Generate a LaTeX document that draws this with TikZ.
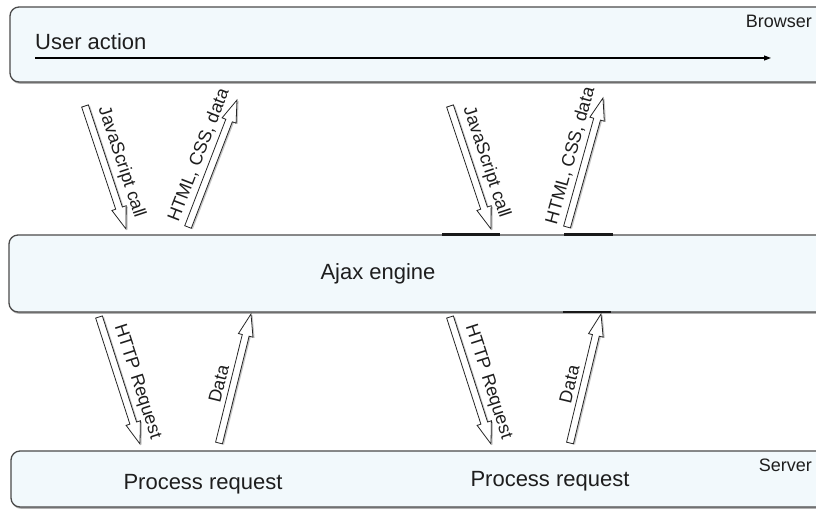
\documentclass[tikz,border=0pt]{standalone}
\usepackage{fontspec}
\setmainfont{Liberation Sans}
\usetikzlibrary{calc,shadows,arrows.meta}
\definecolor{boxfill}{RGB}{242,249,252}
\definecolor{boxline}{RGB}{75,75,75}
\definecolor{txt}{RGB}{30,30,30}
\tikzset{
 layer/.style={draw=boxline, line width=1.3pt, fill=boxfill, rounded corners=9pt,
   drop shadow={shadow xshift=0.8pt, shadow yshift=-1.8pt, opacity=.5, fill=black!60}},
 hollow/.style={draw=black!85, line width=.8pt, fill=white, line join=miter,
   drop shadow={shadow xshift=1.6pt, shadow yshift=-0.8pt, opacity=.45, fill=black!50}},
 big/.style={font=\fontsize{22}{24}\selectfont, text=txt, inner sep=0pt},
 small/.style={font=\fontsize{18}{20}\selectfont, text=txt, inner sep=0pt},
 lbl/.style={font=\fontsize{18}{20}\selectfont, text=txt, sloped, above=7pt, inner sep=1pt},
 thickseg/.style={line width=2.6pt, draw=black!90},
 useract/.style={line width=1.1pt, draw=black, -{Triangle[length=7pt,width=5pt]}}
}
\newcommand\hollowarrow[2]{%
 \coordinate (hh) at ($(#2)!22pt!(#1)$);
 \draw[hollow] ($(#1)!3.5pt!90:(#2)$) -- ($(hh)!3.5pt!-90:(#1)$) -- ($(hh)!7.5pt!-90:(#1)$)
   -- (#2) -- ($(hh)!7.5pt!90:(#1)$) -- ($(hh)!3.5pt!90:(#1)$) -- ($(#1)!3.5pt!-90:(#2)$) -- cycle;}
\begin{document}
\begin{tikzpicture}[x=1pt,y=-1pt]
\useasboundingbox (0,0) rectangle (816,510);
\clip (0,0) rectangle (816,510);
\fill[white] (0,0) rectangle (816,510);
% layers
\draw[layer] (10,7) rectangle (840,82);
\draw[layer] (9,235) rectangle (840,312);
\draw[layer] (11,451) rectangle (840,507);
% thick segments on ajax box
\draw[thickseg] (442,234.5) -- (500,234.5);
\draw[thickseg] (564,234.5) -- (613,234.5);
\draw[thickseg] (563,312) -- (611,312);
% texts
\node[big, anchor=west] (ua) at (35,42) {User action};
\coordinate (uaS) at (35,58);
\coordinate (uaE) at (771,58);
\draw[useract] (uaS) -- (uaE);
\node[small, anchor=east] (br) at (812,21) {Browser};
\node[big] (aj) at (378,274) {Ajax engine};
\node[big] (pr1) at (203,484) {Process request};
\node[big] (pr2) at (550,481) {Process request};
\node[small, anchor=east] (sv) at (812,465) {Server};
% arrow endpoints
\coordinate (js1a) at (85,106);  \coordinate (js1b) at (126,229);
\coordinate (ht1a) at (188,227); \coordinate (ht1b) at (237,100);
\coordinate (js2a) at (450,106); \coordinate (js2b) at (491,229);
\coordinate (ht2a) at (567,227); \coordinate (ht2b) at (603,98);
\coordinate (hr1a) at (99,317);  \coordinate (hr1b) at (140,444);
\coordinate (da1a) at (219,443); \coordinate (da1b) at (251,314);
\coordinate (hr2a) at (450,317); \coordinate (hr2b) at (491,444);
\coordinate (da2a) at (570,443); \coordinate (da2b) at (601,314);
\hollowarrow{js1a}{js1b}
\hollowarrow{ht1a}{ht1b}
\hollowarrow{js2a}{js2b}
\hollowarrow{ht2a}{ht2b}
\hollowarrow{hr1a}{hr1b}
\hollowarrow{da1a}{da1b}
\hollowarrow{hr2a}{hr2b}
\hollowarrow{da2a}{da2b}
% labels
\path (js1a) -- node[lbl, pos=.5] {JavaScript call} (js1b);
\path (ht1a) -- node[lbl, pos=.52] {HTML, CSS, data} (ht1b);
\path (js2a) -- node[lbl, pos=.5] {JavaScript call} (js2b);
\path (ht2a) -- node[lbl, pos=.52] {HTML, CSS, data} (ht2b);
\path (hr1a) -- node[lbl, pos=.55] {HTTP Request} (hr1b);
\path (da1a) -- node[lbl, pos=.43] {Data} (da1b);
\path (hr2a) -- node[lbl, pos=.55] {HTTP Request} (hr2b);
\path (da2a) -- node[lbl, pos=.43] {Data} (da2b);
\end{tikzpicture}
\end{document}
